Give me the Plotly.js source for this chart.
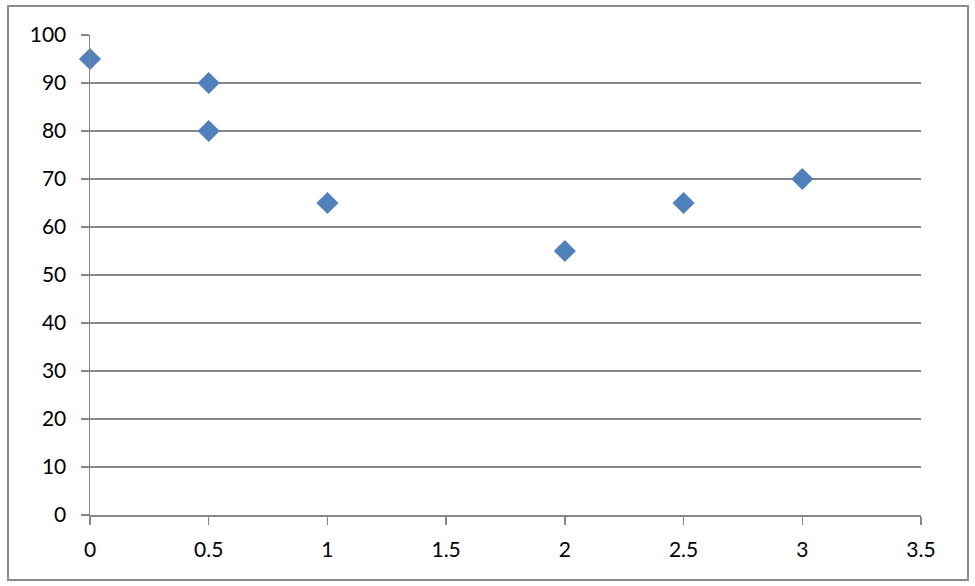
<!DOCTYPE html>
<html>
<head>
<meta charset="utf-8">
<script src="https://cdn.plot.ly/plotly-3.0.1.min.js"></script>
<style>html,body{margin:0;padding:0;background:#fff;}#chart{width:975px;height:586px;}</style>
</head>
<body>
<div id="chart"></div>
<script>
const xValues = [0, 0.5, 0.5, 1, 2, 2.5, 3];
const yValues = [95, 90, 80, 65, 55, 65, 70];
const xTicks = [0, 0.5, 1, 1.5, 2, 2.5, 3, 3.5];
const xTickLabels = ['0', '0.5', '1', '1.5', '2', '2.5', '3', '3.5'];
const yTicks = [0, 10, 20, 30, 40, 50, 60, 70, 80, 90, 100];
const yTickLabels = ['0', '10', '20', '30', '40', '50', '60', '70', '80', '90', '100'];

const L = 90, R = 54, T = 35, B = 71, W = 975, H = 586;
const pw = W - L - R, ph = H - T - B;
const px = v => (v - L) / pw;
const py = v => (H - B - v) / ph;

const trace = {
  x: xValues, y: yValues, type: 'scatter', mode: 'markers',
  marker: {symbol: 'diamond', size: 17, color: '#4F81BD', line: {width: 0}},
  cliponaxis: false, hoverinfo: 'x+y'
};
const grid = '#868686';
const layout = {
  width: W, height: H,
  margin: {l: L, r: R, t: T, b: B, pad: 0},
  paper_bgcolor: '#ffffff', plot_bgcolor: '#ffffff',
  font: {family: 'Lato, "Open Sans", sans-serif', size: 21, color: '#000'},
  showlegend: false,
  xaxis: {
    range: [0, 3.5], tickmode: 'array', tickvals: xTicks, ticktext: xTickLabels,
    showgrid: false, zeroline: false, showline: true, linecolor: grid, linewidth: 1.5,
    ticks: 'outside', ticklen: 8, tickcolor: grid, tickwidth: 1.5, ticklabelstandoff: 7
  },
  yaxis: {
    range: [0, 100], tickmode: 'array', tickvals: yTicks, ticktext: yTickLabels,
    showgrid: true, gridcolor: grid, gridwidth: 1.5, zeroline: false,
    showline: true, linecolor: grid, linewidth: 1.5,
    ticks: 'outside', ticklen: 8, tickcolor: grid, tickwidth: 1.5, ticklabelstandoff: 10
  },
  shapes: [{
    type: 'rect', xref: 'paper', yref: 'paper',
    x0: px(8), x1: px(968), y0: py(580), y1: py(6),
    line: {color: '#8a8a8a', width: 2}, fillcolor: 'rgba(0,0,0,0)', layer: 'below'
  }]
};
Plotly.newPlot('chart', [trace], layout, {displayModeBar: false, staticPlot: true});
</script>
</body>
</html>
